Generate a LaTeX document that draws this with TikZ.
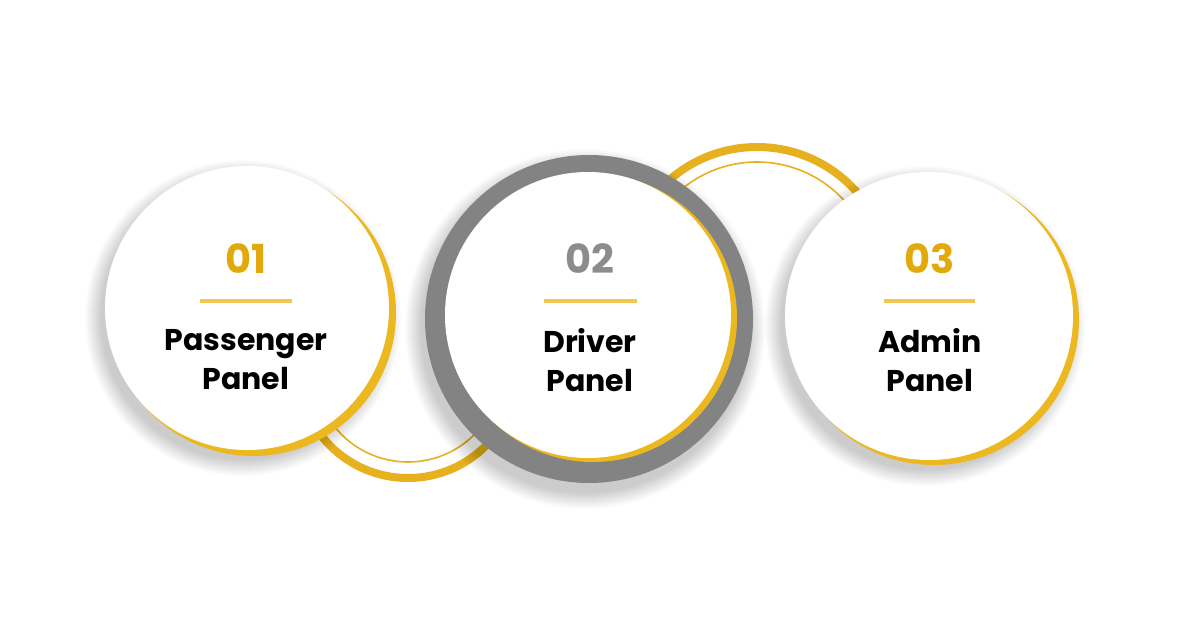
\documentclass[tikz,border=0pt]{standalone}
\usepackage{fontspec}
\setmainfont{Poppins}
\usetikzlibrary{positioning}

\definecolor{goldArc}{HTML}{E6B01E}
\definecolor{goldRim}{HTML}{EBB81F}
\definecolor{goldNum}{HTML}{E2A90A}
\definecolor{goldLine}{HTML}{F1C752}
\definecolor{ringGray}{HTML}{838383}
\definecolor{numGray}{HTML}{8C8C8C}

% soft shadow under a disc: centre x, centre y, radius
\newcommand{\softshadow}[3]{%
  \foreach \s in {0,...,16}
    \fill[black, opacity=0.013] (#1-4,#2+10) circle (#3+\s);
}

\tikzset{
  number/.style={font=\fontsize{40}{40}\selectfont\bfseries, text=goldNum},
  title/.style={font=\fontsize{30}{39}\selectfont\bfseries, align=center, text=black},
  rule/.style={draw=goldLine, line width=4pt},
  thickarc/.style={draw=goldArc, line width=8pt},
  thinarc/.style={draw=goldArc, line width=1.6pt}
}

\begin{document}
\begin{tikzpicture}[x=1pt, y=-1pt]
\useasboundingbox (0,0) rectangle (1200,628);
\fill[white] (0,0) rectangle (1200,628);

% links between the panels
\draw[thickarc] (408,368) ++(180:110) arc (180:0:110);
\draw[thinarc] (408,368) ++(180:94) arc (180:0:94);
\draw[thickarc] (757,280) ++(180:133) arc (180:360:133);
\draw[thinarc] (757,280) ++(180:118) arc (180:360:118);

% shadows
\softshadow{247}{308}{142}
\softshadow{589}{319}{164}
\softshadow{929}{316}{144}

% passenger disc
\fill[goldRim] (253,313) circle (143);
\fill[white] (247,308) circle (142);

% driver disc with grey ring
\fill[ringGray] (589,319) circle (164);
\fill[goldRim] (593,318) circle (144);
\fill[white] (588,315) circle (143);

% admin disc
\fill[goldRim] (934,320) circle (145);
\fill[white] (929,316) circle (144);

\node[number] (NumberA) at (246,259) {01};
\draw[rule] (200,301) -- (292,301);
\node[title] (TitleA) at (246,360) {Passenger\\Panel};

\node[number, text=numGray] (NumberB) at (590,259) {02};
\draw[rule] (544,301) -- (637,301);
\node[title] (TitleB) at (590,360) {Driver\\Panel};

\node[number] (NumberC) at (930,259) {03};
\draw[rule] (884,301) -- (975,301);
\node[title] (TitleC) at (930,360) {Admin\\Panel};
\end{tikzpicture}
\end{document}
